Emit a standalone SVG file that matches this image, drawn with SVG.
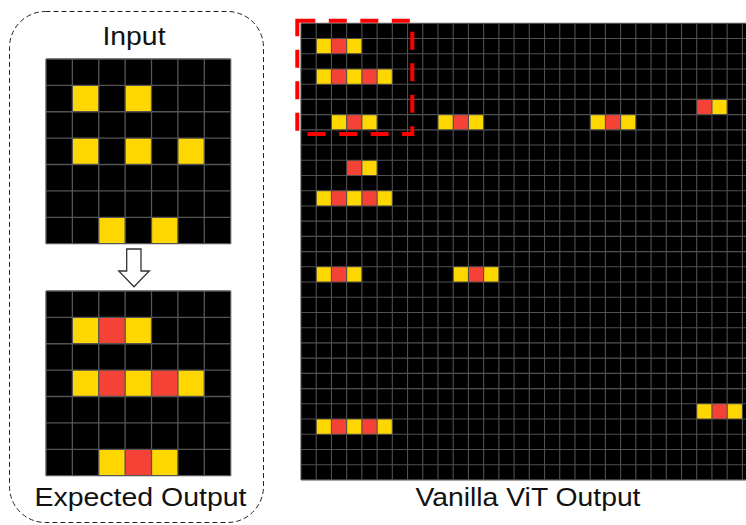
<svg xmlns="http://www.w3.org/2000/svg" width="746" height="525" viewBox="0 0 746 525">
<defs>
<style>
.bg{fill:#000}
.y{fill:#FFD700}
.r{fill:#F44336}
.gl{fill:none;stroke:#555;stroke-width:1.3;vector-effect:non-scaling-stroke}
.gls{fill:none;stroke:#505050;stroke-width:1.1;vector-effect:non-scaling-stroke}
.lbl{font-family:"Liberation Sans",Arial,Helvetica,sans-serif;font-size:25.5px;fill:#111;text-anchor:middle}
</style>
</defs>
<rect width="746" height="525" fill="#fff"/>

<g id="left-panel">
<rect x="9.5" y="11.5" width="254" height="511" rx="36" ry="36" fill="none" stroke="#222" stroke-width="1" stroke-dasharray="5 3"/>
<text class="lbl" x="134" y="45" textLength="63" lengthAdjust="spacingAndGlyphs">Input</text>
<text class="lbl" x="140.5" y="506" textLength="212" lengthAdjust="spacingAndGlyphs">Expected Output</text>
</g>

<g id="input-grid" transform="translate(46,59) scale(26.38)">
<rect class="bg" width="7" height="7"/>
<rect class="y" x="1" y="1" width="1" height="1"/>
<rect class="y" x="3" y="1" width="1" height="1"/>
<rect class="y" x="1" y="3" width="1" height="1"/>
<rect class="y" x="3" y="3" width="1" height="1"/>
<rect class="y" x="5" y="3" width="1" height="1"/>
<rect class="y" x="2" y="6" width="1" height="1"/>
<rect class="y" x="4" y="6" width="1" height="1"/>
<path class="gl" d="M0 0V7M1 0V7M2 0V7M3 0V7M4 0V7M5 0V7M6 0V7M7 0V7M0 0H7M0 1H7M0 2H7M0 3H7M0 4H7M0 5H7M0 6H7M0 7H7"/>
</g>

<g id="expected-grid" transform="translate(46,291) scale(26.38)">
<rect class="bg" width="7" height="7"/>
<rect class="y" x="1" y="1" width="1" height="1"/>
<rect class="r" x="2" y="1" width="1" height="1"/>
<rect class="y" x="3" y="1" width="1" height="1"/>
<rect class="y" x="1" y="3" width="1" height="1"/>
<rect class="r" x="2" y="3" width="1" height="1"/>
<rect class="y" x="3" y="3" width="1" height="1"/>
<rect class="r" x="4" y="3" width="1" height="1"/>
<rect class="y" x="5" y="3" width="1" height="1"/>
<rect class="y" x="2" y="6" width="1" height="1"/>
<rect class="r" x="3" y="6" width="1" height="1"/>
<rect class="y" x="4" y="6" width="1" height="1"/>
<path class="gl" d="M0 0V7M1 0V7M2 0V7M3 0V7M4 0V7M5 0V7M6 0V7M7 0V7M0 0H7M0 1H7M0 2H7M0 3H7M0 4H7M0 5H7M0 6H7M0 7H7"/>
</g>

<g id="connectors">
<polygon points="126.7,249 141,249 141,271 149.3,271 134,286.7 118.7,271 126.7,271" fill="#fff" stroke="#333" stroke-width="1.3" stroke-linejoin="miter"/>
</g>

<g id="vit-grid" transform="translate(301,23.3) scale(15.22)">
<rect class="bg" width="30" height="30"/>
<rect class="y" x="1" y="1" width="1" height="1"/><rect class="r" x="2" y="1" width="1" height="1"/><rect class="y" x="3" y="1" width="1" height="1"/>
<rect class="y" x="1" y="3" width="1" height="1"/><rect class="r" x="2" y="3" width="1" height="1"/><rect class="y" x="3" y="3" width="1" height="1"/><rect class="r" x="4" y="3" width="1" height="1"/><rect class="y" x="5" y="3" width="1" height="1"/>
<rect class="r" x="26" y="5" width="1" height="1"/><rect class="y" x="27" y="5" width="1" height="1"/>
<rect class="y" x="2" y="6" width="1" height="1"/><rect class="r" x="3" y="6" width="1" height="1"/><rect class="y" x="4" y="6" width="1" height="1"/>
<rect class="y" x="9" y="6" width="1" height="1"/><rect class="r" x="10" y="6" width="1" height="1"/><rect class="y" x="11" y="6" width="1" height="1"/>
<rect class="y" x="19" y="6" width="1" height="1"/><rect class="r" x="20" y="6" width="1" height="1"/><rect class="y" x="21" y="6" width="1" height="1"/>
<rect class="r" x="3" y="9" width="1" height="1"/><rect class="y" x="4" y="9" width="1" height="1"/>
<rect class="y" x="1" y="11" width="1" height="1"/><rect class="r" x="2" y="11" width="1" height="1"/><rect class="y" x="3" y="11" width="1" height="1"/><rect class="r" x="4" y="11" width="1" height="1"/><rect class="y" x="5" y="11" width="1" height="1"/>
<rect class="y" x="1" y="16" width="1" height="1"/><rect class="r" x="2" y="16" width="1" height="1"/><rect class="y" x="3" y="16" width="1" height="1"/>
<rect class="y" x="10" y="16" width="1" height="1"/><rect class="r" x="11" y="16" width="1" height="1"/><rect class="y" x="12" y="16" width="1" height="1"/>
<rect class="y" x="26" y="25" width="1" height="1"/><rect class="r" x="27" y="25" width="1" height="1"/><rect class="y" x="28" y="25" width="1" height="1"/>
<rect class="y" x="1" y="26" width="1" height="1"/><rect class="r" x="2" y="26" width="1" height="1"/><rect class="y" x="3" y="26" width="1" height="1"/><rect class="r" x="4" y="26" width="1" height="1"/><rect class="y" x="5" y="26" width="1" height="1"/>
<path class="gls" d="M0 0V30M1 0V30M2 0V30M3 0V30M4 0V30M5 0V30M6 0V30M7 0V30M8 0V30M9 0V30M10 0V30M11 0V30M12 0V30M13 0V30M14 0V30M15 0V30M16 0V30M17 0V30M18 0V30M19 0V30M20 0V30M21 0V30M22 0V30M23 0V30M24 0V30M25 0V30M26 0V30M27 0V30M28 0V30M29 0V30M30 0V30M0 0H30M0 1H30M0 2H30M0 3H30M0 4H30M0 5H30M0 6H30M0 7H30M0 8H30M0 9H30M0 10H30M0 11H30M0 12H30M0 13H30M0 14H30M0 15H30M0 16H30M0 17H30M0 18H30M0 19H30M0 20H30M0 21H30M0 22H30M0 23H30M0 24H30M0 25H30M0 26H30M0 27H30M0 28H30M0 29H30M0 30H30"/>
</g>

<g id="highlight-box">
<rect x="297.3" y="20.7" width="115" height="113.3" fill="none" stroke="#FF0000" stroke-width="4" stroke-dasharray="18 13.5"/>
</g>

<g id="vit-label">
<text class="lbl" x="528" y="506" textLength="225" lengthAdjust="spacingAndGlyphs">Vanilla ViT Output</text>
</g>
</svg>
